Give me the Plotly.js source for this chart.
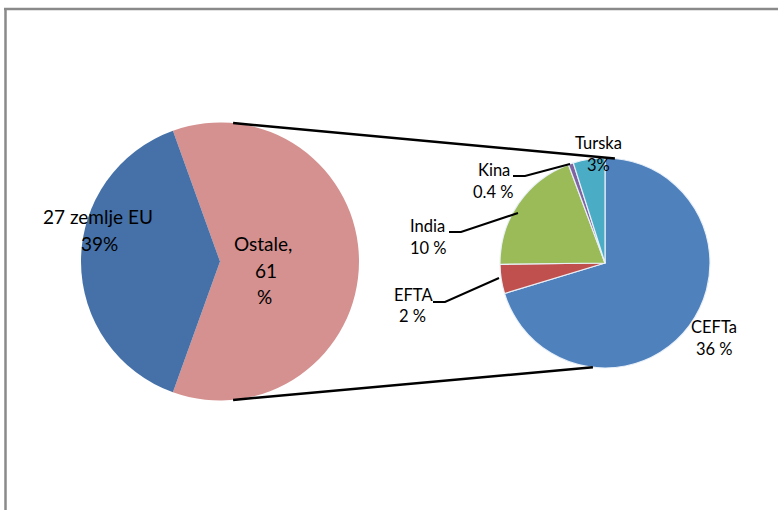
<!DOCTYPE html>
<html>
<head>
<meta charset="utf-8">
<script src="https://cdn.plot.ly/plotly-3.0.1.min.js"></script>
<style>
  html, body { margin: 0; padding: 0; background: #ffffff; }
  #chart { width: 778px; height: 510px; }
</style>
</head>
<body>
<div id="chart"></div>
<script>
// ---- data ----
const mainLabels = ['Ostale', '27 zemlje EU'];
const mainValues = [61, 39];
const mainText = ['Ostale,\n61\n%', '27 zemlje EU\n39%'];
const mainColors = ['#D4918F', '#4571A8'];

const subLabels = ['CEFTa', 'EFTA', 'India', 'Kina', 'Turska'];
const subValues = [36, 2.3, 10, 0.4, 2.5];
const subText = ['CEFTa\n36 %', 'EFTA\n2 %', 'India\n10 %', 'Kina\n0.4 %', 'Turska\n3%'];
const subColors = ['#4F81BD', '#C0504D', '#9BBB59', '#8064A2', '#4BACC6'];

// ---- layout helpers (pixel -> paper) ----
const W = 778, H = 510;
const px = x => x / W;
const py = y => 1 - y / H;

const leftPie = { cx: 220, cy: 261.5, r: 139 };
const rightPie = { cx: 605, cy: 263, r: 105 };

function dom(p) {
  return { x: [px(p.cx - p.r), px(p.cx + p.r)], y: [py(p.cy + p.r), py(p.cy - p.r)] };
}
function onCircle(p, deg) {
  const a = deg * Math.PI / 180;
  return [p.cx + p.r * Math.sin(a), p.cy - p.r * Math.cos(a)];
}

const traces = [
  {
    type: 'pie',
    labels: mainLabels,
    values: mainValues,
    sort: false,
    direction: 'clockwise',
    rotation: -(mainValues[0] / (mainValues[0] + mainValues[1])) * 180 + 90,
    marker: { colors: mainColors, line: { color: 'rgba(255,255,255,0)', width: 0 } },
    textinfo: 'none',
    hoverinfo: 'none',
    showlegend: false,
    domain: dom(leftPie)
  },
  {
    type: 'pie',
    labels: subLabels,
    values: subValues,
    sort: false,
    direction: 'clockwise',
    rotation: 0,
    marker: { colors: subColors, line: { color: 'rgba(235,242,250,0.95)', width: 1.2 } },
    textinfo: 'none',
    hoverinfo: 'none',
    showlegend: false,
    domain: dom(rightPie)
  }
];

// label placement (pixel centres of each text line)
const mainLabelPos = [
  [[263, 243], [266, 270], [264, 296]],
  [[98, 216], [99, 243]]
];
const subLabelPos = [
  [[714, 327], [714, 349]],
  [[413, 295], [412, 316]],
  [[427, 226], [428, 248]],
  [[494, 170], [493, 192]],
  [[598, 143], [598, 165]]
];

const annotations = [];
function addLines(text, pos, size) {
  text.split('\n').forEach((line, i) => {
    annotations.push({
      xref: 'paper', yref: 'paper',
      x: px(pos[i][0]), y: py(pos[i][1]),
      xanchor: 'center', yanchor: 'middle',
      text: line, showarrow: false,
      font: { family: 'Lato, "Liberation Sans", sans-serif', size: size, color: '#000000' }
    });
  });
}
mainText.forEach((t, i) => addLines(t, mainLabelPos[i], 19));
subText.forEach((t, i) => addLines(t, subLabelPos[i], 16.5));

// shapes
const shapes = [];
function line(x0, y0, x1, y1, color, width) {
  shapes.push({
    type: 'line', xref: 'paper', yref: 'paper',
    x0: px(x0), y0: py(y0), x1: px(x1), y1: py(y1),
    line: { color: color, width: width }
  });
}
function poly(pts, color, width) {
  let d = 'M ' + pts.map(p => px(p[0]).toFixed(5) + ',' + py(p[1]).toFixed(5)).join(' L ');
  shapes.push({ type: 'path', xref: 'paper', yref: 'paper', path: d, line: { color: color, width: width } });
}

// frame
line(4, 9, 778, 9, '#8A8A8A', 2.5);
line(5.5, 8, 5.5, 510, '#8A8A8A', 2.5);

// connectors between the two pies
const t0 = onCircle(leftPie, 5.4), t1 = onCircle(rightPie, 5.4);
const b0 = onCircle(leftPie, 174.6), b1 = onCircle(rightPie, 186.6);
line(t0[0], t0[1], t1[0], t1[1], '#000000', 2.5);
line(b0[0], b0[1], b1[0], b1[1], '#000000', 2.5);

// leader lines
poly([[513, 176], [525, 176], [570, 164]], '#000000', 2);
poly([[449, 232], [461, 232], [518, 213]], '#000000', 2);
poly([[433, 302], [445, 302], [499, 278]], '#000000', 2);

const layout = {
  width: W, height: H,
  margin: { l: 0, r: 0, t: 0, b: 0, pad: 0 },
  paper_bgcolor: '#ffffff',
  plot_bgcolor: '#ffffff',
  showlegend: false,
  annotations: annotations,
  shapes: shapes
};

Plotly.newPlot('chart', traces, layout, { staticPlot: true, displayModeBar: false });
</script>
</body>
</html>
